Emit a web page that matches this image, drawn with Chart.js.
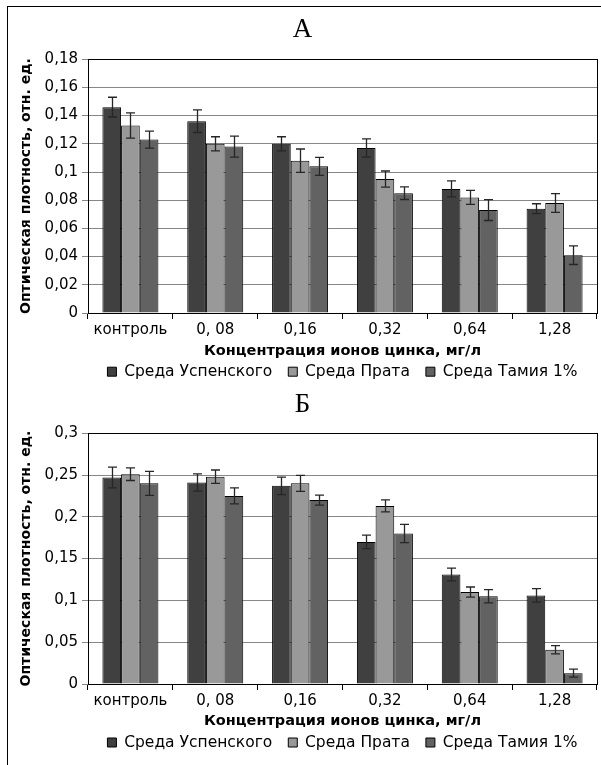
<!DOCTYPE html>
<html>
<head>
<meta charset="utf-8">
<script src="https://cdn.jsdelivr.net/npm/chart.js@4"></script>
<style>
html, body { margin: 0; padding: 0; background: #fff; overflow: hidden; }
#frame { position: absolute; left: 7px; top: 6px; width: 700px; height: 800px; border: 1px solid #000; }
.box { position: absolute; left: 8px; width: 593px; }
</style>
</head>
<body>
<div id="frame"></div>
<div class="box" style="top:10px;height:375px"><canvas id="chartA"></canvas></div>
<div class="box" style="top:385px;height:380px"><canvas id="chartB"></canvas></div>
<script>
const categories = ['контроль', '0, 08', '0,16', '0,32', '0,64', '1,28'];
const seriesNames = ['Среда Успенского', 'Среда Прата', 'Среда Тамия 1%'];
const colors = ['#404040', '#999999', '#626262'];
const xTitle = 'Концентрация ионов цинка, мг/л';
const yTitle = 'Оптическая плотность, отн. ед.';

// chart A
const uspenskyA = [0.146, 0.136, 0.120, 0.117, 0.088, 0.074];
const prataA = [0.133, 0.120, 0.108, 0.095, 0.082, 0.078];
const tamiyaA = [0.123, 0.118, 0.104, 0.085, 0.073, 0.041];
const uspenskyErrA = [0.007, 0.008, 0.005, 0.0065, 0.0057, 0.0035];
const prataErrA = [0.009, 0.005, 0.0083, 0.0057, 0.005, 0.0066];
const tamiyaErrA = [0.006, 0.0075, 0.0064, 0.0045, 0.0074, 0.0066];
const yTicksA = ['0', '0,02', '0,04', '0,06', '0,08', '0,1', '0,12', '0,14', '0,16', '0,18'];

// chart B
const uspenskyB = [0.247, 0.241, 0.237, 0.170, 0.131, 0.106];
const prataB = [0.251, 0.248, 0.240, 0.213, 0.110, 0.041];
const tamiyaB = [0.240, 0.225, 0.220, 0.180, 0.105, 0.013];
const uspenskyErrB = [0.0124, 0.0104, 0.0104, 0.008, 0.0076, 0.008];
const prataErrB = [0.0076, 0.008, 0.0096, 0.0072, 0.006, 0.005];
const tamiyaErrB = [0.0144, 0.0096, 0.006, 0.011, 0.008, 0.0048];
const yTicksB = ['0', '0,05', '0,1', '0,15', '0,2', '0,25', '0,3'];

Chart.defaults.font.family = 'DejaVu Sans';
Chart.defaults.color = '#000';

const legendPad = 16;

// whiskers drawn from each bar's value +/- error
const errorBars = {
  id: 'errorBars',
  afterDatasetsDraw(chart) {
    const ctx = chart.ctx;
    const y = chart.scales.y;
    ctx.save();
    ctx.strokeStyle = '#262626';
    ctx.lineWidth = 1.3;
    chart.data.datasets.forEach((ds, i) => {
      chart.getDatasetMeta(i).data.forEach((bar, j) => {
        const v = ds.data[j], e = ds.errors[j];
        const top = y.getPixelForValue(v + e);
        const bot = y.getPixelForValue(v - e);
        const x = Math.round(bar.x) + 0.5;
        ctx.beginPath();
        ctx.moveTo(x, top); ctx.lineTo(x, bot);
        ctx.moveTo(x - 4.5, top); ctx.lineTo(x + 4.5, top);
        ctx.moveTo(x - 4.5, bot); ctx.lineTo(x + 4.5, bot);
        ctx.stroke();
      });
    });
    ctx.restore();
  }
};

// black box round the plot area
const plotFrame = {
  id: 'plotFrame',
  beforeDatasetsDraw(chart) {
    const {ctx, chartArea: a} = chart;
    ctx.save();
    ctx.strokeStyle = '#000';
    ctx.lineWidth = 1;
    ctx.strokeRect(Math.round(a.left) + 0.5, Math.round(a.top) + 0.5,
      Math.round(a.right - a.left), Math.round(a.bottom - a.top));
    ctx.restore();
  }
};

// centre the legend under the plot area and put its row at a fixed height
const legendPlace = {
  id: 'legendPlace',
  afterLayout(chart, args, opts) {
    const lg = chart.legend, a = chart.chartArea;
    const mid = (a.left + a.right) / 2;
    const half = lg.width / 2;
    lg.left = mid - half; lg.right = mid + half;
    lg.top = opts.textY - legendPad - 15.5 / 2;
    lg.height = 2 * legendPad + 20;
    lg.bottom = lg.top + lg.height;
  }
};

function makeChart(id, title, values, errors, yMax, yStep, yTicks, g) {
  return new Chart(document.getElementById(id), {
    type: 'bar',
    data: {
      labels: categories,
      datasets: seriesNames.map((name, i) => ({
        label: name,
        data: values[i],
        errors: errors[i],
        backgroundColor: colors[i],
        borderColor: '#000',
        borderWidth: 1,
        categoryPercentage: 0.66,
        barPercentage: 1
      }))
    },
    options: {
      responsive: true,
      maintainAspectRatio: false,
      animation: false,
      layout: { padding: { left: 0, right: 4, top: 0, bottom: 0 } },
      plugins: {
        title: {
          display: true,
          text: title,
          color: '#000',
          font: { family: 'Liberation Serif', size: 27, weight: 'normal' },
          padding: { top: 3.8, bottom: g.titleBottom }
        },
        legend: {
          position: 'bottom',
          maxHeight: g.legendSpace,
          labels: {
            color: '#000',
            font: { size: 15.5 },
            boxWidth: 9,
            boxHeight: 9,
            padding: legendPad
          }
        },
        tooltip: { enabled: false },
        legendPlace: { textY: g.legendY }
      },
      scales: {
        x: {
          grid: { drawOnChartArea: false, color: '#000', tickLength: 6, offset: true },
          border: { color: '#000' },
          ticks: { color: '#000', font: { size: 15 }, padding: 2, maxRotation: 0, autoSkip: false },
          title: {
            display: true,
            text: xTitle,
            color: '#000',
            font: { size: 14.5, weight: 'bold' },
            padding: { top: 0, bottom: g.xTitleBottom }
          },
          afterFit: s => { s.height = 50; }
        },
        y: {
          min: 0,
          max: yMax,
          grid: { color: '#878787', tickLength: 6 },
          border: { color: '#000' },
          ticks: {
            stepSize: yStep,
            color: '#000',
            font: { size: 15 },
            padding: 4,
            callback: (v, i) => yTicks[i]
          },
          title: {
            display: true,
            text: yTitle,
            color: '#000',
            font: { size: 14, weight: 'bold' },
            padding: { top: 10, bottom: 0 }
          },
          afterFit: s => { s.width = 80; }
        }
      }
    },
    plugins: [plotFrame, errorBars, legendPlace]
  });
}

makeChart('chartA', 'А',
  [uspenskyA, prataA, tamiyaA],
  [uspenskyErrA, prataErrA, tamiyaErrA],
  0.18, 0.02, yTicksA,
  { titleBottom: 13.0, legendSpace: 22, legendY: 361.7, xTitleBottom: 2.8 });

makeChart('chartB', 'Б',
  [uspenskyB, prataB, tamiyaB],
  [uspenskyErrB, prataErrB, tamiyaErrB],
  0.3, 0.05, yTicksB,
  { titleBottom: 12.0, legendSpace: 31, legendY: 357.5, xTitleBottom: 4.3 });
</script>
</body>
</html>
